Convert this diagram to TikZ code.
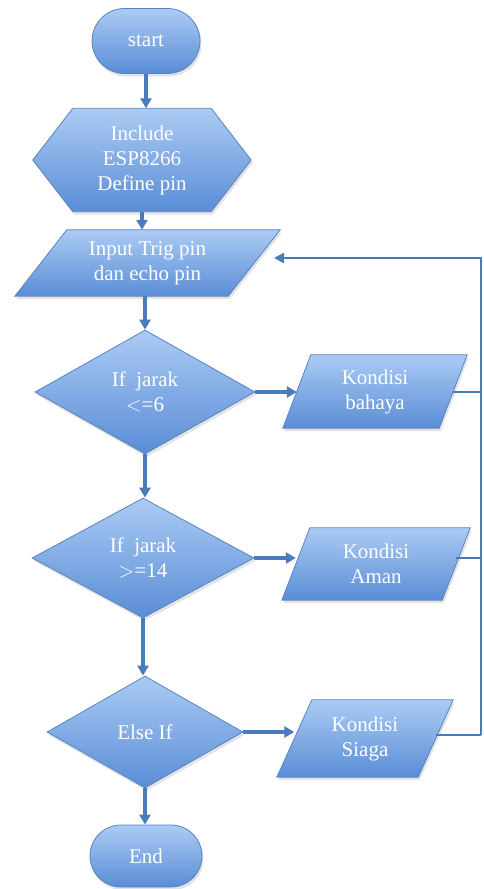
\documentclass[tikz,border=0pt]{standalone}
\usepackage{fontspec}
\setmainfont{Liberation Serif}
\usetikzlibrary{shapes.geometric,shapes.misc,arrows.meta,shadows,calc,backgrounds}
\definecolor{fillTop}{HTML}{ABCBF4}
\definecolor{fillBot}{HTML}{5A8DD6}
\definecolor{edgeC}{HTML}{5884C2}
\definecolor{lineC}{HTML}{4A7CBC}
\tikzset{
  skin/.style={draw=edgeC, line width=0.8pt, top color=fillTop, bottom color=fillBot,
    drop shadow={opacity=0.22, shadow xshift=1.5pt, shadow yshift=-3pt}},
  lbl/.style={text=white, align=center, inner sep=0pt, font=\fontsize{21}{25}\selectfont},
  term/.style={skin, lbl, rounded rectangle},
  dec/.style={skin, lbl, diamond},
  flat/.style={lbl, rectangle},
  flow/.style={draw=lineC, line width=3.5pt, -{Triangle[length=10pt,width=11pt]}},
  back/.style={draw=lineC, line width=2.2pt},
  backarr/.style={draw=lineC, line width=2.2pt, -{Triangle[length=10pt,width=10pt]}}
}
\newcommand\paraskin[2]{\path[skin] ($(#1.north west)+(#2,0)$) -- (#1.north east) -- ($(#1.south east)+(-#2,0)$) -- (#1.south west) -- cycle;}
\begin{document}
\begin{tikzpicture}[x=1pt,y=-1pt]
\useasboundingbox (0,0) rectangle (484,889);
\node[term, minimum width=108pt, minimum height=65pt] (start) at (146,41) {start};
\node[flat, minimum width=218pt, minimum height=103pt] (prep) at (142,160) {Include\\ESP8266\\Define pin};
\node[flat, minimum width=265pt, minimum height=66pt] (input) at (147.5,263) {Input Trig pin\\dan echo pin};
\node[dec, minimum width=220pt, minimum height=124pt] (d1) at (145,392) {If~ jarak\\$<$=6};
\node[flat, minimum width=184pt, minimum height=73pt] (bahaya) at (375,391.5) {Kondisi\\bahaya};
\node[dec, minimum width=222pt, minimum height=120pt] (d2) at (143,558) {If~ jarak\\$>$=14};
\node[flat, minimum width=188pt, minimum height=72pt] (aman) at (376,564) {Kondisi\\Aman};
\node[dec, minimum width=196pt, minimum height=112pt] (d3) at (145,732) {Else If};
\node[flat, minimum width=176pt, minimum height=77pt] (siaga) at (365,738.5) {Kondisi\\Siaga};
\node[term, minimum width=112pt, minimum height=62pt] (end) at (146,856) {End};
\begin{scope}[on background layer]
\path[skin] ($(prep.north west)+(40,0)$) -- ($(prep.north east)+(-40,0)$) -- (prep.east)
  -- ($(prep.south east)+(-40,0)$) -- ($(prep.south west)+(40,0)$) -- (prep.west) -- cycle;
\paraskin{input}{52}
\paraskin{bahaya}{28}
\paraskin{aman}{28}
\paraskin{siaga}{35}
\end{scope}
\coordinate (bahaya-w) at ($(bahaya.west)+(14,0)$);
\coordinate (bahaya-e) at ($(bahaya.east)+(-14,0)$);
\coordinate (aman-w) at ($(aman.west)+(14,0)$);
\coordinate (aman-e) at ($(aman.east)+(-14,0)$);
\coordinate (siaga-w) at ($(siaga.west)+(17.5,0)$);
\coordinate (siaga-e) at ($(siaga.east)+(-17.5,0)$);
\coordinate (rtop) at (481,258);
\coordinate (rbot) at (481,735);
\coordinate (inret) at (274,258);
% main flow
\draw[flow] (start.south) -- (start.south |- prep.north);
\draw[flow] (prep.south) -- (prep.south |- input.north);
\draw[flow] (input.south -| d1.north) -- (d1.north);
\draw[flow] (d1.south) -- (d2.north -| d1.south);
\draw[flow] (d2.south) -- (d3.north -| d2.south);
\draw[flow] (d3.south) -- (end.north -| d3.south);
\draw[flow] (d1.east) -- (d1.east -| bahaya-w);
\draw[flow] (d2.east) -- (d2.east -| aman-w);
\draw[flow] (d3.east) -- (d3.east -| siaga-w);
% feedback
\draw[back] (bahaya-e |- d1.east) -- (d1.east -| rtop);
\draw[back] (aman-e |- d2.east) -- (d2.east -| rtop);
\draw[back] (siaga-e |- rbot) -- (rbot);
\draw[backarr] (rbot) -- (rtop) -- (inret);
\end{tikzpicture}
\end{document}
